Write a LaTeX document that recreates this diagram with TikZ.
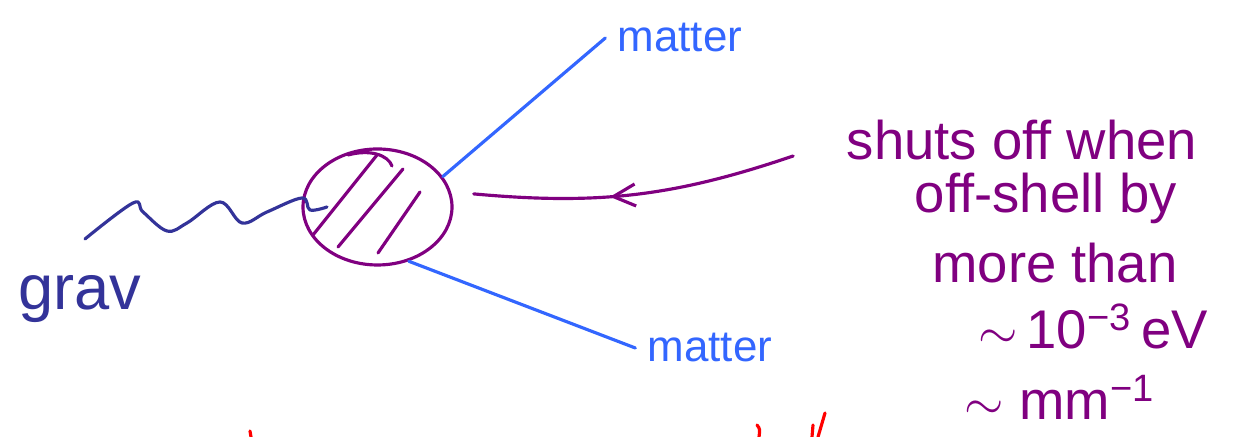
\documentclass[tikz,border=0pt]{standalone}
\usepackage{fontspec}
\setmainfont{Liberation Sans}
\usetikzlibrary{shapes.geometric,arrows.meta,decorations.markings,positioning}
\definecolor{fiolet}{RGB}{128,0,128}
\definecolor{niebieski}{RGB}{51,102,255}
\definecolor{granat}{RGB}{51,51,153}
\definecolor{czerwony}{RGB}{255,0,0}
\begin{document}
\begin{tikzpicture}[
        pen/.style={line width=0.9pt, line cap=round, line join=round},
        opis/.style={anchor=base, inner sep=0pt, text=fiolet, font=\fontsize{15.5}{18}\selectfont},
        materia/.style={anchor=base, text=niebieski, font=\fontsize{12.5}{15}\selectfont}
    ]
        \useasboundingbox (0,0) rectangle (12.38,4.37);

        % Wierzcholek (zakreskowany blob)
        \node[ellipse, draw=fiolet, pen, inner sep=0pt, minimum width=1.49cm, minimum height=1.16cm] (blob) at (3.775,2.30) {};
        \draw[fiolet, pen] (3.48,2.82) .. controls (3.70,2.88) and (3.88,2.82) .. (3.92,2.71);
        \draw[fiolet, pen] (3.13,2.02) -- (3.77,2.82);
        \draw[fiolet, pen] (3.38,1.90) -- (4.03,2.68);
        \draw[fiolet, pen] (3.78,1.84) -- (4.20,2.45);

        % Grawiton (linia falista)
        \coordinate (gravStart) at (0.85,1.98);
        \draw[granat, pen] plot[smooth, tension=0.6] coordinates {(gravStart) (1.33,2.34) (1.43,2.25) (1.67,2.06) (1.87,2.14) (2.20,2.35) (2.42,2.14) (2.67,2.25) (3.02,2.39) (3.10,2.27) (3.27,2.30)};
        \node[anchor=base, text=granat, font=\fontsize{18}{21}\selectfont] (grav) at (0.80,1.27) {grav};

        % Linie materii
        \node[materia] (matterTop) at (6.80,3.85) {matter};
        \node[materia] (matterBot) at (7.10,0.75) {matter};
        \draw[niebieski, pen] (blob.25) -- (matterTop.west);
        \draw[niebieski, pen] (blob.-60) -- (matterBot.west);

        % Opis po prawej
        \node[opis] (shuts) at (10.22,2.77) {shuts off when};
        \node[opis] (offshell) at (10.46,2.24) {off-shell by};
        \node[opis] (more) at (10.55,1.54) {more than};
        \node[opis] (ev) at (10.93,0.88) {$\sim$\,10\textsuperscript{\char"2212 3}\,eV};
        \node[opis] (mm) at (10.60,0.17) {$\sim$\ mm\textsuperscript{\char"2212 1}};
        \draw[fiolet, pen, postaction={decorate}, decoration={markings, mark=at position 0.58 with {\arrow{Straight Barb[length=2.2mm, width=2.2mm]}}}]
            ([xshift=-5.3mm, yshift=0.4mm]shuts.base west) to[bend left=12] ([xshift=2.2mm]blob.10);

        % Czerwone slady u dolu
        \draw[czerwony, pen] (2.50,0.06) -- (2.51,0);
        \draw[czerwony, pen] (7.57,0.12) .. controls (7.60,0.08) .. (7.59,0);
        \draw[czerwony, pen] (8.13,0.12) -- (8.12,0);
        \draw[czerwony, pen] (8.25,0.24) -- (8.18,0);
    \end{tikzpicture}
\end{document}
